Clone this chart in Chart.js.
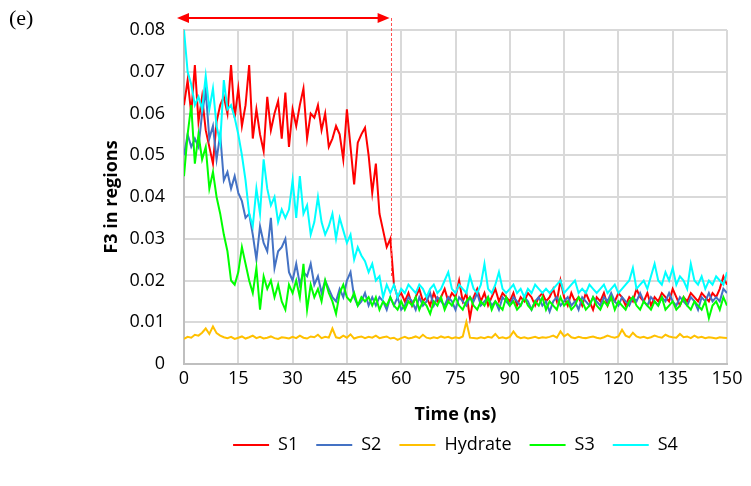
<!DOCTYPE html>
<html>
<head>
<meta charset="utf-8">
<script src="https://cdn.jsdelivr.net/npm/chart.js@4.4.0/dist/chart.umd.min.js"></script>
<style>
  body { margin: 0; background: #fff; }
  #wrap { width: 751px; height: 486px; position: relative; }
</style>
</head>
<body>
<div id="wrap"><canvas id="chart"></canvas></div>
<script>
// time axis, 1 ns steps
const times = Array.from({ length: 151 }, (_, i) => i);
const xTicks = [0, 15, 30, 45, 60, 75, 90, 105, 120, 135, 150];

const s1 = [
  0.062, 0.068, 0.060, 0.0716, 0.058, 0.064, 0.056, 0.052, 0.048, 0.058,
  0.062, 0.064, 0.060, 0.0716, 0.059, 0.066, 0.057, 0.062, 0.0716, 0.054,
  0.061, 0.055, 0.051, 0.064, 0.056, 0.060, 0.063, 0.054, 0.065, 0.052,
  0.061, 0.057, 0.062, 0.066, 0.054, 0.060, 0.059, 0.062, 0.056, 0.060,
  0.052, 0.054, 0.057, 0.055, 0.049, 0.061, 0.052, 0.043, 0.053, 0.055,
  0.0566, 0.050, 0.041, 0.048, 0.036, 0.032, 0.028, 0.030, 0.019, 0.016,
  0.017,
  0.015, 0.017, 0.014, 0.016, 0.018, 0.015, 0.016, 0.014, 0.017, 0.015,
  0.016, 0.018, 0.015, 0.017, 0.016, 0.020, 0.015, 0.017, 0.011, 0.016,
  0.018, 0.015, 0.017, 0.014, 0.016, 0.018, 0.015, 0.017, 0.016, 0.015,
  0.017, 0.014, 0.016, 0.015, 0.017, 0.016, 0.014, 0.016, 0.017, 0.015,
  0.016, 0.018, 0.015, 0.020, 0.016, 0.014, 0.017, 0.015, 0.016, 0.014,
  0.017, 0.015, 0.013, 0.016, 0.015, 0.017, 0.014, 0.016, 0.015, 0.017,
  0.016, 0.014, 0.016, 0.015, 0.018, 0.016, 0.015, 0.017, 0.014, 0.016,
  0.015, 0.017, 0.016, 0.015, 0.018, 0.016, 0.014, 0.016, 0.015, 0.017,
  0.016, 0.015, 0.017, 0.016, 0.015, 0.017, 0.016, 0.018, 0.021, 0.019
];

const s2 = [
  0.050, 0.055, 0.052, 0.054, 0.052, 0.060, 0.0655, 0.054, 0.057, 0.049,
  0.055, 0.044, 0.046, 0.042, 0.045, 0.041, 0.039, 0.035, 0.036, 0.031,
  0.025, 0.033, 0.029, 0.027, 0.035, 0.023, 0.027, 0.028, 0.030, 0.022,
  0.020, 0.024, 0.019, 0.022, 0.021, 0.024, 0.019, 0.021, 0.017, 0.020,
  0.018, 0.016, 0.015, 0.018, 0.016, 0.020, 0.022, 0.016, 0.014, 0.015,
  0.017, 0.014, 0.016, 0.014, 0.016, 0.015, 0.013, 0.016, 0.014, 0.016,
  0.013,
  0.014, 0.016, 0.015, 0.013, 0.016, 0.014, 0.015, 0.017, 0.014, 0.016,
  0.015, 0.014, 0.016, 0.015, 0.013, 0.016, 0.015, 0.014, 0.016, 0.015,
  0.017, 0.014, 0.015, 0.016, 0.014, 0.015, 0.013, 0.016, 0.015, 0.014,
  0.016, 0.015, 0.014, 0.016, 0.015, 0.013, 0.015, 0.016, 0.014, 0.015,
  0.0125, 0.015, 0.016, 0.014, 0.015, 0.016, 0.014, 0.015, 0.013, 0.016,
  0.015, 0.014, 0.016, 0.015, 0.014, 0.016, 0.015, 0.017, 0.015, 0.014,
  0.016, 0.015, 0.014, 0.016, 0.015, 0.017, 0.015, 0.014, 0.016, 0.015,
  0.014, 0.016, 0.015, 0.017, 0.015, 0.014, 0.016, 0.015, 0.014, 0.016,
  0.015, 0.013, 0.016, 0.015, 0.017, 0.015, 0.016, 0.015, 0.018, 0.017
];

const hydrate = [
  0.0060, 0.0065, 0.0063, 0.0070, 0.0068, 0.0075, 0.0085, 0.0072, 0.0090, 0.0074,
  0.0068, 0.0064, 0.0062, 0.0065, 0.0060, 0.0063, 0.0066, 0.0061, 0.0064, 0.0068,
  0.0062, 0.0065, 0.0061, 0.0063, 0.0066, 0.0062, 0.0060, 0.0064, 0.0063, 0.0061,
  0.0065, 0.0062, 0.0068, 0.0063, 0.0061, 0.0066, 0.0064, 0.0070, 0.0062, 0.0065,
  0.0063, 0.0085, 0.0064, 0.0062, 0.0068, 0.0063, 0.0071, 0.0061, 0.0064, 0.0066,
  0.0062, 0.0065, 0.0063, 0.0068, 0.0062, 0.0064, 0.0066, 0.0061, 0.0063, 0.0058,
  0.0062, 0.0065, 0.0061, 0.0063, 0.0066, 0.0062, 0.0070, 0.0063, 0.0061, 0.0064,
  0.0062, 0.0066, 0.0063, 0.0065, 0.0061, 0.0064, 0.0062, 0.0066, 0.0101, 0.0063,
  0.0062, 0.0061, 0.0064, 0.0062, 0.0065, 0.0063, 0.0072, 0.0062, 0.0064, 0.0061,
  0.0065, 0.0078, 0.0066, 0.0062, 0.0064, 0.0061, 0.0063, 0.0065, 0.0062, 0.0064,
  0.0063, 0.0065, 0.0068, 0.0063, 0.0078, 0.0066, 0.0072, 0.0064, 0.0062, 0.0065,
  0.0063, 0.0062, 0.0064, 0.0066, 0.0063, 0.0061, 0.0064, 0.0068, 0.0065, 0.0063,
  0.0066, 0.0082, 0.0068, 0.0064, 0.0075, 0.0066, 0.0063, 0.0065, 0.0062, 0.0064,
  0.0068, 0.0065, 0.0063, 0.0070, 0.0066, 0.0064, 0.0063, 0.0072, 0.0064, 0.0066,
  0.0062, 0.0068, 0.0063, 0.0065, 0.0062, 0.0064, 0.0063, 0.0061, 0.0064, 0.0063,
  0.0062
];

const s3 = [
  0.045, 0.055, 0.062, 0.048, 0.055, 0.049, 0.052, 0.042, 0.046, 0.040,
  0.036, 0.031, 0.027, 0.020, 0.019, 0.022, 0.028, 0.024, 0.020, 0.017,
  0.023, 0.013, 0.021, 0.018, 0.020, 0.016, 0.019, 0.015, 0.013, 0.019,
  0.017, 0.020, 0.016, 0.024, 0.013, 0.019, 0.016, 0.018, 0.015, 0.020,
  0.017, 0.015, 0.012, 0.017, 0.019, 0.016, 0.015, 0.017, 0.014, 0.016,
  0.015, 0.016, 0.014, 0.016, 0.013, 0.015, 0.014, 0.016, 0.014, 0.013,
  0.015,
  0.013, 0.015, 0.014, 0.016, 0.013, 0.015, 0.014, 0.012, 0.015, 0.014,
  0.016, 0.013, 0.015, 0.014, 0.016, 0.014, 0.013, 0.015, 0.016, 0.014,
  0.013, 0.015, 0.014, 0.016, 0.013, 0.015, 0.014, 0.013, 0.016, 0.014,
  0.015, 0.013, 0.014, 0.016, 0.014, 0.013, 0.015, 0.014, 0.016, 0.013,
  0.015, 0.014, 0.013, 0.016, 0.014, 0.015, 0.013, 0.014, 0.016, 0.015,
  0.013, 0.014, 0.016, 0.014, 0.013, 0.015, 0.014, 0.016, 0.013, 0.015,
  0.014, 0.013, 0.015, 0.016, 0.014, 0.013, 0.015, 0.014, 0.013, 0.015,
  0.014, 0.016, 0.013, 0.014, 0.015, 0.013, 0.014, 0.016, 0.014, 0.013,
  0.015, 0.014, 0.013, 0.015, 0.011, 0.014, 0.015, 0.013, 0.016, 0.014
];

const s4 = [
  0.080, 0.070, 0.067, 0.062, 0.064, 0.061, 0.069, 0.061, 0.066, 0.057,
  0.053, 0.068, 0.061, 0.062, 0.059, 0.055, 0.050, 0.044, 0.036, 0.033,
  0.042, 0.036, 0.049, 0.042, 0.038, 0.040, 0.034, 0.037, 0.035, 0.037,
  0.044, 0.035, 0.045, 0.036, 0.038, 0.031, 0.034, 0.040, 0.034, 0.031,
  0.033, 0.036, 0.030, 0.035, 0.032, 0.029, 0.031, 0.025, 0.028, 0.026,
  0.0246, 0.022, 0.024, 0.020, 0.021, 0.016, 0.019, 0.017, 0.019, 0.016,
  0.018,
  0.017, 0.019, 0.018, 0.017, 0.019, 0.018, 0.016, 0.018, 0.019, 0.017,
  0.018, 0.020, 0.022, 0.018, 0.017, 0.019, 0.018, 0.017, 0.021, 0.018,
  0.017, 0.019, 0.024, 0.018, 0.017, 0.019, 0.022, 0.018, 0.017, 0.018,
  0.019, 0.017, 0.018, 0.016, 0.018, 0.017, 0.019, 0.018, 0.017, 0.018,
  0.017, 0.018, 0.019, 0.020, 0.017, 0.018, 0.019, 0.020, 0.017, 0.018,
  0.017, 0.019, 0.018, 0.017, 0.018, 0.019, 0.017, 0.018, 0.019, 0.017,
  0.018, 0.019, 0.020, 0.023, 0.018, 0.019, 0.020, 0.018, 0.021, 0.024,
  0.020, 0.019, 0.022, 0.020, 0.023, 0.019, 0.021, 0.020, 0.018, 0.024,
  0.020, 0.019, 0.021, 0.018, 0.020, 0.019, 0.021, 0.020, 0.019, 0.022
];

const FONT = "'Open Sans', 'Noto Sans', sans-serif";

// S4 listed first so it is drawn on top (like Excel); legend reversed
const series = [
  { label: 'S4', data: s4, color: '#00ffff' },
  { label: 'S3', data: s3, color: '#00ff00' },
  { label: 'Hydrate', data: hydrate, color: '#ffc000' },
  { label: 'S2', data: s2, color: '#4472c4' },
  { label: 'S1', data: s1, color: '#ff0000' }
];

// red double arrow, dashed marker line and the "(e)" panel tag
const extras = {
  id: 'extras',
  afterLayout(chart) {
    const lg = chart.legend;
    const a = chart.chartArea;
    const h = lg.bottom - lg.top;
    lg.left = a.left;
    lg.right = a.right;
    lg.width = a.right - a.left;
    lg.top = 418;
    lg.bottom = 418 + h;
  },
  afterDraw(chart) {
    const ctx = chart.ctx;
    const xs = chart.scales.x, ys = chart.scales.y;
    const x0 = xs.getPixelForValue(0) - 7;
    const x1 = xs.getPixelForValue(56.8);
    const yA = 18;
    ctx.save();
    ctx.strokeStyle = '#ff0000';
    ctx.fillStyle = '#ff0000';
    ctx.lineWidth = 2;
    ctx.beginPath();
    ctx.moveTo(x0 + 8, yA);
    ctx.lineTo(x1 - 8, yA);
    ctx.stroke();
    ctx.beginPath();
    ctx.moveTo(x0, yA); ctx.lineTo(x0 + 12, yA - 5); ctx.lineTo(x0 + 12, yA + 5); ctx.closePath();
    ctx.fill();
    ctx.beginPath();
    ctx.moveTo(x1, yA); ctx.lineTo(x1 - 12, yA - 5); ctx.lineTo(x1 - 12, yA + 5); ctx.closePath();
    ctx.fill();
    // dashed drop line
    const xd = Math.round(xs.getPixelForValue(57.3)) + 0.5;
    ctx.lineWidth = 1;
    ctx.strokeStyle = '#ff5050';
    ctx.setLineDash([3, 2]);
    ctx.beginPath();
    ctx.moveTo(xd, yA);
    ctx.lineTo(xd, ys.getPixelForValue(0.021));
    ctx.stroke();
    ctx.setLineDash([]);
    ctx.fillStyle = '#000';
    ctx.font = "22px 'Liberation Serif', serif";
    ctx.textBaseline = 'alphabetic';
    ctx.fillText('(e)', 9, 25);
    ctx.restore();
  }
};

new Chart(document.getElementById('chart').getContext('2d'), {
  type: 'line',
  data: {
    labels: times,
    datasets: series.map((s) => ({
      label: s.label,
      data: s.data,
      borderColor: s.color,
      backgroundColor: s.color,
      borderWidth: 2,
      pointRadius: 0,
      tension: 0,
      fill: false
    }))
  },
  options: {
    responsive: true,
    maintainAspectRatio: false,
    animation: false,
    events: [],
    layout: { padding: { left: 97, right: 24, top: 30, bottom: 14 } },
    scales: {
      x: {
        type: 'linear',
        min: 0,
        max: 150,
        afterBuildTicks: (scale) => { scale.ticks = xTicks.map((v) => ({ value: v })); },
        afterFit: (scale) => { scale.height = 62; },
        grid: { color: '#d9d9d9', lineWidth: 2, drawTicks: false },
        border: { color: '#bfbfbf', width: 2 },
        ticks: { color: '#000', padding: 4, font: { family: FONT, size: 18 }, maxRotation: 0 },
        title: { display: true, text: 'Time (ns)', color: '#000', padding: { top: 0, bottom: 0 }, font: { family: FONT, size: 18, weight: 'bold' } }
      },
      y: {
        min: 0,
        max: 0.08,
        afterFit: (scale) => { scale.width = 87; },
        grid: { color: '#d9d9d9', lineWidth: 2, drawTicks: false },
        border: { color: '#bfbfbf', width: 2 },
        ticks: { stepSize: 0.01, color: '#000', padding: 19, font: { family: FONT, size: 18 } },
        title: { display: true, text: 'F3 in regions', color: '#000', padding: { top: 4, bottom: 0 }, font: { family: FONT, size: 18, weight: 'bold' } }
      }
    },
    plugins: {
      legend: {
        position: 'bottom',
        reverse: true,
        labels: {
          usePointStyle: true,
          pointStyle: 'line',
          pointStyleWidth: 36,
          boxHeight: 18,
          padding: 18,
          color: '#000',
          font: { family: FONT, size: 18 }
        }
      },
      tooltip: { enabled: false },
      title: { display: false }
    }
  },
  plugins: [extras]
});
</script>
</body>
</html>
